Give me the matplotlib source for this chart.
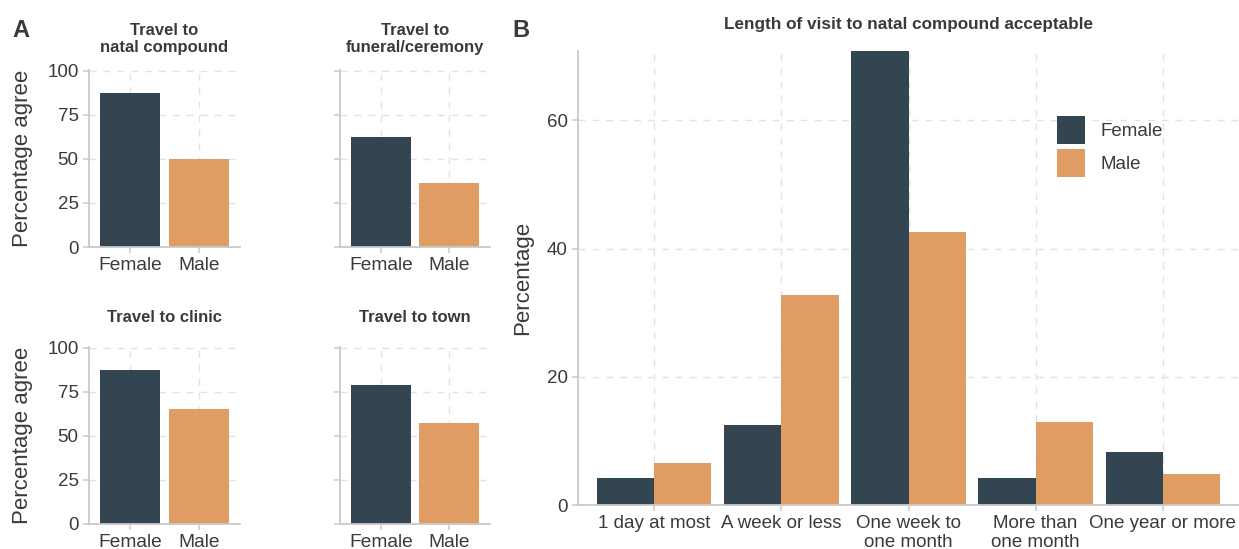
import matplotlib
matplotlib.use("Agg")
import matplotlib.pyplot as plt
import numpy as np

plt.rcParams['font.family'] = ['Liberation Sans', 'DejaVu Sans']

# Panel A: agreement with each kind of travel, by sex
travel_titles = ["Travel to\nnatal compound", "Travel to\nfuneral/ceremony",
                 "Travel to clinic", "Travel to town"]
sexes = ["Female", "Male"]
female_agree = [87.5, 62.5, 87.5, 79.0]
male_agree = [50.0, 36.6, 65.1, 57.4]

# Panel B: acceptable length of a visit to the natal compound
visit_lengths = ["1 day at most", "A week or less", "One week to\none month",
                 "More than\none month", "One year or more"]
female_pct = [4.2, 12.5, 70.8, 4.2, 8.3]
male_pct = [6.5, 32.7, 42.5, 13.0, 4.8]

navy = "#344552"
orange = "#DF9D63"
axis_grey = "#c9c9c9"
grid_grey = "#e2e2e2"
text_grey = "#3a3a3a"

W, H = 1239, 549
fig = plt.figure(figsize=(W / 100, H / 100), dpi=100)


def box(x0, y0, x1, y1):
    # pixel box (top-left origin) -> figure fraction rect
    return [x0 / W, 1 - y1 / H, (x1 - x0) / W, (y1 - y0) / H]


def style(ax):
    for s in ["top", "right"]:
        ax.spines[s].set_visible(False)
    for s in ["left", "bottom"]:
        ax.spines[s].set_color(axis_grey)
        ax.spines[s].set_linewidth(1.3)
    ax.tick_params(color=axis_grey, length=4, width=1.1, labelcolor=text_grey)
    ax.grid(True, color=grid_grey, linestyle=(0, (5, 5)), linewidth=1)
    ax.set_axisbelow(True)


# --- panel A: four small bar charts ---
boxes_a = [(89, 70, 240, 247), (340, 70, 490, 247),
           (89, 347, 240, 524), (340, 347, 490, 524)]
title_pads = [13, 13, 18, 18]
for i, b in enumerate(boxes_a):
    ax = fig.add_axes(box(*b))
    style(ax)
    ax.bar([0, 1], [female_agree[i], male_agree[i]], width=0.88,
           color=[navy, orange])
    ax.set_xlim(-0.6, 1.6)
    ax.set_ylim(0, 100.5)
    ax.set_yticks([0, 25, 50, 75, 100])
    ax.set_xticks([0, 1])
    ax.set_xticklabels(sexes, fontsize=13.8)
    ax.tick_params(axis="y", labelsize=13.5)
    if i % 2 == 0:
        ax.set_ylabel("Percentage agree", fontsize=16, color=text_grey, labelpad=10)
    else:
        ax.tick_params(axis="y", labelleft=False)
    ax.set_title(travel_titles[i], fontsize=12, fontweight="bold",
                 color=text_grey, pad=title_pads[i], linespacing=1.15)

# --- panel B: grouped bars ---
axb = fig.add_axes(box(578, 51, 1239, 505))
style(axb)
x = np.arange(len(visit_lengths))
axb.bar(x - 0.225, female_pct, width=0.45, color=navy, label="Female")
axb.bar(x + 0.225, male_pct, width=0.45, color=orange, label="Male")
axb.set_xlim(-0.6, 4.6)
axb.set_ylim(0, max(female_pct))
axb.set_yticks([0, 20, 40, 60])
axb.set_xticks(x)
axb.set_xticklabels(visit_lengths, fontsize=13.5, linespacing=1.1)
axb.tick_params(axis="y", labelsize=13.5)
axb.set_ylabel("Percentage", fontsize=16, color=text_grey, labelpad=10)
axb.set_title("Length of visit to natal compound acceptable", fontsize=12.3,
              fontweight="bold", color=text_grey, pad=16)
leg = axb.legend(loc="upper left", bbox_to_anchor=(0.725, 0.857), frameon=False,
                 fontsize=13.5, handlelength=1.5, handleheight=1.95,
                 labelspacing=0.25, handletextpad=0.8, borderpad=0,
                 borderaxespad=0)
for t in leg.get_texts():
    t.set_color(text_grey)

# panel letters
fig.text(12 / W, 1 - 37 / H, "A", fontsize=17, fontweight="bold", color=text_grey)
fig.text(512 / W, 1 - 37 / H, "B", fontsize=17, fontweight="bold", color=text_grey)

fig.savefig("out.png", dpi=100)
